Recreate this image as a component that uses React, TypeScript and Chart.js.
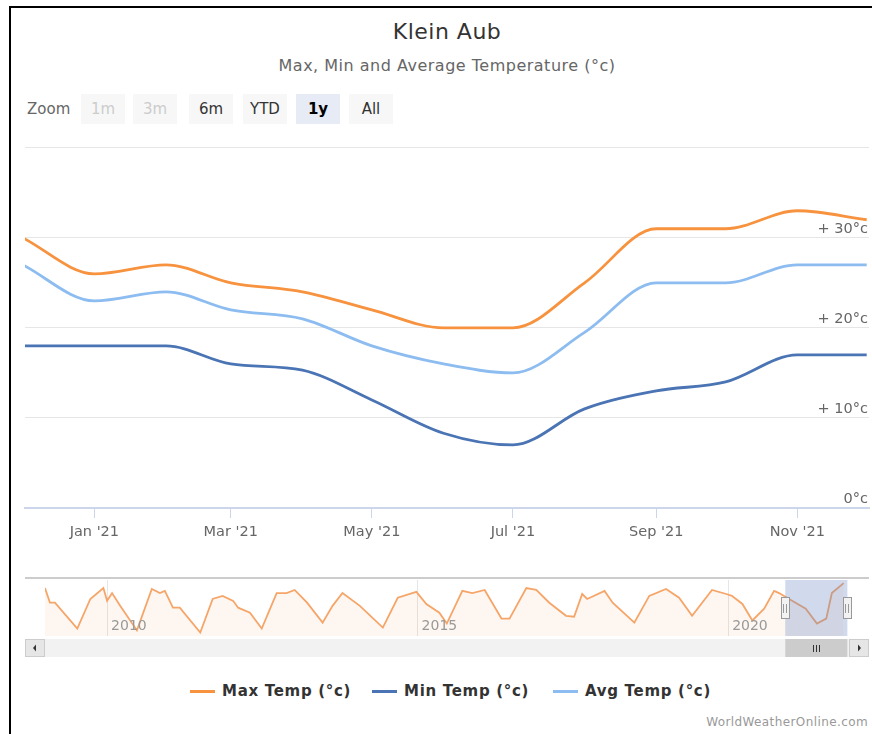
import React, { useEffect, useRef } from 'react';
import { Chart, registerables } from 'chart.js';
Chart.register(...registerables);

const FONT = '"DejaVu Sans", Verdana, sans-serif';

// ---- Main chart data (x = days from 1 Jan 2021) ----
const monthDays = [-31, 0, 31, 59, 90, 120, 151, 181, 212, 243, 273, 304, 334];
const maxTemp = [30, 26, 27, 25, 24, 22, 20, 20, 25, 31, 31, 33, 32];
const minTemp = [18, 18, 18, 16, 15.3, 12, 8.3, 7, 11, 13, 14, 17, 17];
const avgTemp = [27, 23, 24, 22, 21, 18, 16, 15, 19.5, 25, 25, 27, 27];

const seriesNames = ['Max Temp (°c)', 'Min Temp (°c)', 'Avg Temp (°c)'];
const seriesColors = ['#f7923e', '#4a74b4', '#8cbcf0'];

const xTickDays = [0, 59, 120, 181, 243, 304];
const xTickLabels = ["Jan '21", "Mar '21", "May '21", "Jul '21", "Sep '21", "Nov '21"];
const yTickValues = [0, 10, 20, 30, 40];
const yTickLabels = ['0°c', '+ 10°c', '+ 20°c', '+ 30°c', ''];

// ---- Navigator data (x = decimal year) ----
const navYears = [
  2009.0, 2009.08, 2009.16, 2009.52, 2009.73, 2009.94, 2010.0, 2010.08, 2010.21, 2010.48,
  2010.72, 2010.85, 2010.93, 2011.06, 2011.17, 2011.5, 2011.7, 2011.86, 2012.03, 2012.11,
  2012.3, 2012.49, 2012.73, 2012.89, 2013.02, 2013.22, 2013.47, 2013.63, 2013.79, 2014.07,
  2014.44, 2014.68, 2014.98, 2015.14, 2015.35, 2015.47, 2015.72, 2015.88, 2016.08, 2016.35,
  2016.48, 2016.75, 2016.91, 2017.12, 2017.39, 2017.52, 2017.65, 2017.73, 2018.01, 2018.14,
  2018.49, 2018.73, 2019.0, 2019.21, 2019.42, 2019.74, 2019.97, 2020.06, 2020.23, 2020.39,
  2020.58, 2020.74, 2020.82, 2021.03, 2021.25, 2021.43, 2021.58, 2021.67, 2021.86,
];
const navMax = [
  31.4, 26.7, 26.7, 18.4, 27.9, 31.4, 27.3, 29.8, 25.7, 17.8,
  31.1, 29.8, 30.5, 25.1, 25.1, 17.1, 27.9, 28.9, 27.3, 25.1,
  23.5, 18.4, 29.8, 29.8, 30.8, 26.7, 20.3, 25.7, 29.8, 25.7,
  18.7, 28.3, 30.2, 26.3, 23.5, 20.0, 30.5, 29.8, 30.8, 21.6,
  21.6, 31.4, 30.8, 26.7, 22.5, 22.2, 29.5, 27.9, 30.5, 26.7,
  20.3, 28.9, 31.1, 28.3, 22.5, 30.8, 29.5, 28.9, 26.3, 21.0,
  24.8, 30.5, 29.8, 27.3, 24.8, 20.0, 21.6, 29.8, 33.0,
];
const navYearTicks = [2010, 2015, 2020];
const navYearLabels = ['2010', '2015', '2020'];
const selectedRange = [2020.92, 2021.92];

const zoomButtons = ['1m', '3m', '6m', 'YTD', '1y', 'All'];
const zoomCenters = [103, 155, 211, 265, 318, 371];
const disabledButtons = ['1m', '3m'];
const selectedButton = '1y';

function MainChart() {
  const ref = useRef<HTMLCanvasElement>(null);
  useEffect(() => {
    const series = [maxTemp, minTemp, avgTemp];
    const chart = new Chart(ref.current!, {
      type: 'line',
      data: {
        datasets: series.map((vals, i) => ({
          label: seriesNames[i],
          data: monthDays.map((d, j) => ({ x: d, y: vals[j] })),
          borderColor: seriesColors[i],
          backgroundColor: seriesColors[i],
          borderWidth: 2.8,
          pointRadius: 0,
          cubicInterpolationMode: 'monotone',
          fill: false,
        })),
      },
      options: {
        animation: false,
        responsive: false,
        maintainAspectRatio: false,
        layout: { padding: { left: 15, right: 3, top: 5, bottom: 5 } },
        plugins: { legend: { display: false }, tooltip: { enabled: false }, title: { display: false } },
        scales: {
          x: {
            type: 'linear',
            min: -30,
            max: 335,
            afterBuildTicks: (s: any) => { s.ticks = xTickDays.map((v) => ({ value: v })); },
            afterFit: (s: any) => { s.height = 37; },
            ticks: {
              autoSkip: false,
              maxRotation: 0,
              padding: 6,
              color: '#666666',
              font: { family: FONT, size: 14.5 },
              callback: (_v: any, i: number) => xTickLabels[i],
            },
            grid: { drawOnChartArea: false, tickLength: 10, color: '#ccd6eb', tickWidth: 1 },
            border: { color: '#ccd6eb', width: 2 },
          },
          y: {
            position: 'right',
            min: 0,
            max: 40,
            afterBuildTicks: (s: any) => { s.ticks = yTickValues.map((v) => ({ value: v })); },
            afterFit: (s: any) => { s.width = 0; },
            ticks: {
              mirror: true,
              padding: -1,
              labelOffset: -9,
              color: '#666666',
              font: { family: FONT, size: 14.5 },
              callback: (_v: any, i: number) => yTickLabels[i],
            },
            grid: { color: '#e6e6e6', drawTicks: false },
            border: { display: false },
          },
        },
      } as any,
    });
    return () => chart.destroy();
  }, []);
  return (
    <canvas ref={ref} width={862} height={410}
      style={{ position: 'absolute', left: 10, top: 140, width: 862, height: 410 }} />
  );
}

const navigatorDecor = {
  id: 'navigatorDecor',
  afterDraw(chart: any) {
    const { ctx, chartArea } = chart;
    const xs = chart.scales.x;
    const { left, right, top, bottom } = chartArea;
    const x1 = xs.getPixelForValue(selectedRange[0]);
    const x2 = xs.getPixelForValue(selectedRange[1]);
    ctx.save();
    // year labels
    ctx.fillStyle = '#999999';
    ctx.font = `14px ${FONT}`;
    ctx.textAlign = 'left';
    ctx.textBaseline = 'middle';
    navYearTicks.forEach((v, i) => {
      ctx.fillText(navYearLabels[i], xs.getPixelForValue(v) + 4, bottom - 10);
    });
    // mask
    ctx.fillStyle = 'rgba(102,133,194,0.3)';
    ctx.fillRect(x1, top, x2 - x1, bottom - top);
    // outline
    ctx.strokeStyle = '#cccccc';
    ctx.lineWidth = 2;
    ctx.beginPath();
    ctx.moveTo(left - 20, top - 2);
    ctx.lineTo(right + 21, top - 2);
    ctx.stroke();
    // handles
    const midY = (top + bottom) / 2;
    [x1, x2].forEach((hx) => {
      ctx.fillStyle = '#f2f2f2';
      ctx.strokeStyle = '#999999';
      ctx.lineWidth = 1;
      ctx.fillRect(Math.round(hx) - 4, midY - 10, 8, 20);
      ctx.strokeRect(Math.round(hx) - 3.5, midY - 10.5, 8, 21);
      ctx.beginPath();
      ctx.moveTo(Math.round(hx) - 1.5, midY - 4);
      ctx.lineTo(Math.round(hx) - 1.5, midY + 5);
      ctx.moveTo(Math.round(hx) + 1.5, midY - 4);
      ctx.lineTo(Math.round(hx) + 1.5, midY + 5);
      ctx.stroke();
    });
    // scrollbar
    const sTop = bottom + 3;
    const sH = 18;
    const sL = left - 20;
    const sR = right + 21;
    ctx.fillStyle = '#f2f2f2';
    ctx.fillRect(sL, sTop, sR - sL, sH);
    ctx.fillStyle = '#e6e6e6';
    ctx.strokeStyle = '#cccccc';
    ctx.fillRect(sL, sTop, 20, sH);
    ctx.strokeRect(sL + 0.5, sTop + 0.5, 19, sH - 1);
    ctx.fillRect(sR - 20, sTop, 20, sH);
    ctx.strokeRect(sR - 19.5, sTop + 0.5, 19, sH - 1);
    ctx.fillStyle = '#333333';
    const cy = sTop + sH / 2;
    ctx.beginPath();
    ctx.moveTo(sL + 8, cy);
    ctx.lineTo(sL + 11, cy - 3.5);
    ctx.lineTo(sL + 11, cy + 3.5);
    ctx.closePath();
    ctx.fill();
    ctx.beginPath();
    ctx.moveTo(sR - 8, cy);
    ctx.lineTo(sR - 11, cy - 3.5);
    ctx.lineTo(sR - 11, cy + 3.5);
    ctx.closePath();
    ctx.fill();
    // thumb
    ctx.fillStyle = '#cccccc';
    ctx.fillRect(x1, sTop, x2 - x1, sH);
    ctx.strokeStyle = '#333333';
    ctx.lineWidth = 1;
    const tc = Math.round((x1 + x2) / 2);
    ctx.beginPath();
    [-3, 0, 3].forEach((o) => {
      ctx.moveTo(tc + o + 0.5, cy - 3);
      ctx.lineTo(tc + o + 0.5, cy + 4);
    });
    ctx.stroke();
    ctx.restore();
  },
};

function NavigatorChart() {
  const ref = useRef<HTMLCanvasElement>(null);
  useEffect(() => {
    const chart = new Chart(ref.current!, {
      type: 'line',
      data: {
        datasets: [{
          label: 'nav',
          data: navYears.map((x, i) => ({ x, y: navMax[i] })),
          borderColor: '#f6a569',
          borderWidth: 1.8,
          backgroundColor: 'rgba(247,146,62,0.07)',
          fill: 'start',
          pointRadius: 0,
          tension: 0,
        }],
      },
      options: {
        animation: false,
        responsive: false,
        maintainAspectRatio: false,
        layout: { padding: { left: 35, right: 24, top: 10, bottom: 26 } },
        plugins: { legend: { display: false }, tooltip: { enabled: false } },
        scales: {
          x: {
            type: 'linear',
            min: 2009,
            max: 2021.93,
            afterBuildTicks: (s: any) => { s.ticks = navYearTicks.map((v) => ({ value: v })); },
            afterFit: (s: any) => { s.height = 0; },
            ticks: { display: false },
            grid: { color: '#e6e6e6', drawTicks: false },
            border: { display: false },
          },
          y: { display: false, min: 16, max: 34 },
        },
      } as any,
      plugins: [navigatorDecor],
    });
    return () => chart.destroy();
  }, []);
  return (
    <canvas ref={ref} width={862} height={92}
      style={{ position: 'absolute', left: 10, top: 570, width: 862, height: 92 }} />
  );
}

export default function App() {
  return (
    <div style={{ position: 'absolute', left: 0, top: 0, width: 872, height: 734, background: '#ffffff', overflow: 'hidden', fontFamily: FONT }}>
      <div style={{ position: 'absolute', left: 9, top: 6, width: 900, height: 800, borderTop: '2px solid #000', borderLeft: '2px solid #000' }} />
      <div style={{ position: 'absolute', left: 0, width: 894, top: 19, lineHeight: '26px', fontSize: 22, letterSpacing: '0.5px', color: '#333333', textAlign: 'center' }}>Klein Aub</div>
      <div style={{ position: 'absolute', left: 0, width: 894, top: 56, lineHeight: '20px', fontSize: 16, letterSpacing: '0.5px', color: '#666666', textAlign: 'center' }}>Max, Min and Average Temperature (°c)</div>
      <div style={{ position: 'absolute', left: 27, top: 99, lineHeight: '20px', fontSize: 15, color: '#666666' }}>Zoom</div>
      {zoomButtons.map((b, i) => {
        const disabled = disabledButtons.includes(b);
        const sel = b === selectedButton;
        return (
          <div key={b} style={{
            position: 'absolute', left: zoomCenters[i] - 22, top: 94, width: 44, height: 30, lineHeight: '30px',
            textAlign: 'center', fontSize: 15, background: sel ? '#e6ebf5' : '#f7f7f7',
            color: disabled ? '#cccccc' : sel ? '#000000' : '#333333', fontWeight: sel ? 'bold' : 'normal',
          }}>{b}</div>
        );
      })}
      <MainChart />
      <NavigatorChart />
      {seriesNames.map((n, i) => {
        const lefts = [190, 372, 553];
        return (
          <div key={n}>
            <div style={{ position: 'absolute', left: lefts[i], top: 690, width: 25, height: 3, background: seriesColors[i] }} />
            <div style={{ position: 'absolute', left: lefts[i] + 32, top: 681, lineHeight: '20px', fontSize: 15, letterSpacing: '0.7px', fontWeight: 'bold', color: '#333333', whiteSpace: 'nowrap' }}>{n}</div>
          </div>
        );
      })}
      <div style={{ position: 'absolute', right: 4, top: 715, lineHeight: '14px', fontSize: 12, letterSpacing: '0.4px', color: '#999999' }}>WorldWeatherOnline.com</div>
    </div>
  );
}
